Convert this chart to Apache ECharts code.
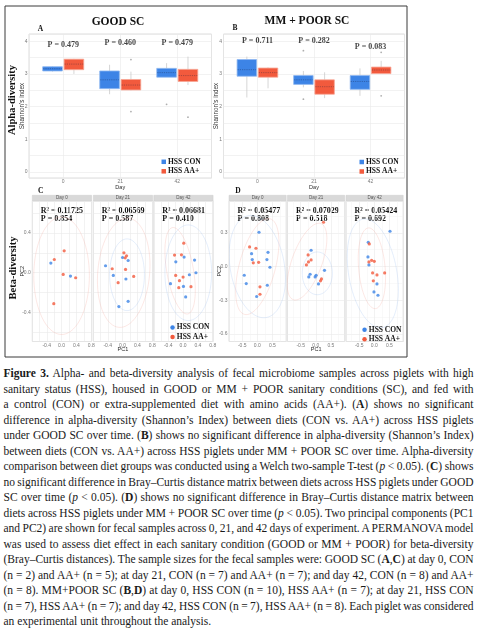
<!DOCTYPE html>
<html>
<head>
<meta charset="utf-8">
<script src="https://cdn.jsdelivr.net/npm/echarts@6/dist/echarts.min.js"></script>
<style>
  html, body { margin: 0; padding: 0; background: #fff; }
  body { width: 479px; height: 631px; overflow: hidden; position: relative; }
  #chart { position: absolute; left: 0; top: 0; width: 479px; height: 362px; }
  #caption { position: absolute; left: 3.5px; top: 366px; width: 470px;
    font-family: 'Liberation Serif', serif; font-size: 11.5px; line-height: 15.5px; color: #1a1a1a; }
  #caption .ln { white-space: nowrap; height: 15.5px; }
</style>
</head>
<body>
<div id="chart"></div>
<div id="caption"></div>
<script>
const days = ['0', '21', '42'];
const facetDays = ['Day 0', 'Day 21', 'Day 42'];

// Shannon's index boxes per day: [min, Q1, median, Q3, max]
const goodConBox = [[3.07, 3.09, 3.16, 3.22, 3.24], [2.38, 2.55, 2.82, 3.09, 3.28], [2.90, 2.90, 3.04, 3.17, 3.33]];
const goodAaBox = [[3.00, 3.13, 3.30, 3.45, 3.46], [2.50, 2.51, 2.66, 2.83, 3.07], [2.66, 2.77, 2.95, 3.14, 3.53]];
const poorConBox = [[2.28, 2.93, 3.13, 3.44, 3.53], [2.59, 2.68, 2.82, 2.95, 3.09], [2.33, 2.53, 2.77, 2.95, 3.17]];
const poorAaBox = [[2.56, 2.90, 3.04, 3.18, 3.20], [2.26, 2.38, 2.61, 2.82, 3.05], [3.01, 3.01, 3.12, 3.21, 3.40]];
// outliers: [day index, value]
const goodConOut = [[2, 2.07]];
const goodAaOut = [[1, 3.44], [1, 1.85], [2, 1.68]];
const poorConOut = [[1, 3.71], [1, 2.23]];
const poorAaOut = [[2, 2.33], [2, 3.66]];

const goodP = ['P = 0.479', 'P = 0.460', 'P = 0.479'];
const goodPY = [3.88, 3.94, 3.94];
const poorP = ['P = 0.711', 'P = 0.282', 'P = 0.083'];
const poorPY = [4.0, 4.0, 3.83];

// PCoA scores [PC1, PC2] per day
const goodPcoaCon = [
  [[-0.29, 0.097], [0.24, -0.033]],
  [[-0.46, 0.07], [-0.25, -0.027], [0.0, 0.153], [0.15, 0.123], [0.09, -0.063], [0.15, -0.287], [-0.1, -0.34]],
  [[0.027, 0.157], [-0.196, 0.11], [0.31, 0.127], [0.347, 0.0], [0.17, -0.02], [-0.34, -0.11], [0.01, -0.137], [0.07, -0.243]]
];
const goodPcoaAa = [
  [[-0.196, 0.133], [0.07, 0.22], [0.044, -0.017], [0.38, -0.05], [-0.21, -0.31]],
  [[-0.28, 0.04], [-0.12, -0.10], [0.036, 0.2], [0.07, 0.15], [0.107, 0.17], [0.08, 0.033], [0.30, -0.037]],
  [[0.018, 0.297], [-0.23, 0.177], [-0.044, 0.18], [-0.2, -0.027], [0.0, -0.043], [-0.098, -0.08], [-0.116, -0.15], [0.213, -0.14]]
];
const poorPcoaCon = [
  [[0.056, 0.305], [-0.19, 0.115], [0.356, 0.127], [-0.167, 0.062], [0.32, 0.062], [0.42, -0.006], [-0.433, -0.077], [-0.367, -0.151], [0.333, -0.166], [-0.022, -0.266]],
  [[-0.156, 0.145], [-0.189, -0.068], [-0.233, -0.092], [-0.022, -0.092], [0.011, -0.077], [0.089, -0.154], [0.289, -0.033]],
  [[0.522, 0.314], [-0.2, 0.216], [-0.211, 0.086], [-0.178, 0.015], [0.089, -0.154], [-0.011, -0.225], [0.122, -0.255]]
];
const poorPcoaAa = [
  [[-0.256, 0.175], [-0.044, 0.163], [-0.133, 0.033], [0.044, 0.038], [0.089, -0.18], [0.089, -0.246]],
  [[0.256, 0.394], [-0.256, 0.104], [-0.156, 0.059], [-0.244, 0.041], [-0.311, 0.015], [0.189, -0.11], [0.156, -0.127]],
  [[-0.167, 0.201], [-0.178, 0.041], [-0.089, 0.056], [0.0, 0.047], [-0.056, -0.056], [0.089, -0.074], [0.344, -0.056], [-0.033, -0.127]]
];
// 95% ellipses: [cx, cy, rx, ry, tilt deg]
const goodEllCon = [null, [0.12, -0.02, 0.47, 0.36, 0], [0.14, 0.0, 0.63, 0.48, 0]];
const goodEllAa = [[0.0, -0.03, 0.75, 0.59, 0], [0.03, 0.0, 0.7, 0.55, 5], [-0.08, 0.02, 0.36, 0.44, -10]];
const poorEllCon = [[0.0, 0.0, 0.9, 0.46, -10], [0.05, -0.06, 0.5, 0.19, 0], [-0.05, -0.06, 0.8, 0.49, -10]];
const poorEllAa = [[0.0, 0.0, 0.6, 0.44, 15], [-0.29, 0.044, 0.5, 0.36, 20], [-0.08, -0.015, 0.44, 0.36, -5]];

const goodR2 = ['0.11725', '0.06569', '0.06681'];
const goodPerm = ['0.854', '0.587', '0.410'];
const poorR2 = ['0.05477', '0.07029', '0.05424'];
const poorPerm = ['0.808', '0.518', '0.692'];

const captionLines = [
  '<b>Figure 3.</b> Alpha- and beta-diversity analysis of fecal microbiome samples across piglets with high',
  'sanitary status (HSS), housed in GOOD or MM + POOR sanitary conditions (SC), and fed with',
  'a control (CON) or extra-supplemented diet with amino acids (AA+). (<b>A</b>) shows no significant',
  'difference in alpha-diversity (Shannon’s Index) between diets (CON vs. AA+) across HSS piglets',
  'under GOOD SC over time. (<b>B</b>) shows no significant difference in alpha-diversity (Shannon’s Index)',
  'between diets (CON vs. AA+) across HSS piglets under MM + POOR SC over time. Alpha-diversity',
  'comparison between diet groups was conducted using a Welch two-sample T-test (<i>p</i> &lt; 0.05). (<b>C</b>) shows',
  'no significant difference in Bray–Curtis distance matrix between diets across HSS piglets under GOOD',
  'SC over time (<i>p</i> &lt; 0.05). (<b>D</b>) shows no significant difference in Bray–Curtis distance matrix between',
  'diets across HSS piglets under MM + POOR SC over time (<i>p</i> &lt; 0.05). Two principal components (PC1',
  'and PC2) are shown for fecal samples across 0, 21, and 42 days of experiment. A PERMANOVA model',
  'was used to assess diet effect in each sanitary condition (GOOD or MM + POOR) for beta-diversity',
  '(Bray–Curtis distances). The sample sizes for the fecal samples were: GOOD SC (<b>A</b>,<b>C</b>) at day 0, CON',
  '(n = 2) and AA+ (n = 5); at day 21, CON (n = 7) and AA+ (n = 7); and day 42, CON (n = 8) and AA+',
  '(n = 8). MM+POOR SC (<b>B</b>,<b>D</b>) at day 0, HSS CON (n = 10), HSS AA+ (n = 7); at day 21, HSS CON',
  '(n = 7), HSS AA+ (n = 7); and day 42, HSS CON (n = 7), HSS AA+ (n = 8). Each piglet was considered',
  'an experimental unit throughout the analysis.'
];

const BLUE = '#3d84e6', RED = '#f25a3d';
const SERIF = 'Liberation Serif', SANS = 'Liberation Sans';

// layout
const boxGrids = [{ left: 29, top: 34, width: 182.5, height: 144 }, { left: 223.5, top: 34, width: 181, height: 144 }];
const cFacets = [32.3, 93.3, 153.8].map(l => ({ left: l, top: 201, width: 59.3, height: 140.5 }));
const dFacets = [229, 287.5, 346].map(l => ({ left: l, top: 201, width: 57.2, height: 140.5 }));

const grids = [...boxGrids, ...cFacets, ...dFacets].map(g => Object.assign({
  show: true, backgroundColor: '#fff', borderColor: '#d4d4d4', borderWidth: 0.8,
  containLabel: false, outerBoundsMode: 'none'
}, g));

const gridLine = { show: true, lineStyle: { color: '#e9e9e9', width: 0.6 } };
const minorLine = { show: true, lineStyle: { color: '#f3f3f3', width: 0.5 } };
const nameStyle = { fontSize: 5.5, fontFamily: SANS, color: '#2a2a2a' };

function fmtStep(step, digits) {
  return v => {
    const q = v / step;
    if (Math.abs(q - Math.round(q)) > 1e-6) return '';
    const r = Math.round(q) * step;
    return (Math.abs(r) < 1e-9 ? 0 : r).toFixed(digits);
  };
}
const dayLabel = v => {
  const i = Math.round(v) - 1;
  return Math.abs(v - Math.round(v)) < 1e-6 && days[i] !== undefined ? days[i] : '';
};

function valAxis(gridIndex, min, max, splitNumber, formatter, more) {
  return Object.assign({
    type: 'value', gridIndex, min, max, splitNumber, nameMoveOverlap: false,
    axisLine: { show: false }, axisTick: { show: false },
    axisLabel: { show: !!formatter, formatter: formatter || undefined, fontSize: 5, color: '#7a7a7a', fontFamily: SANS, margin: 1.5 },
    splitLine: gridLine
  }, more || {});
}
const minorOpts = { minorTick: { show: false, splitNumber: 2 }, minorSplitLine: minorLine };

const xAxes = [
  valAxis(0, 0.4, 3.6, 3, dayLabel, { name: 'Day', nameLocation: 'middle', nameGap: 6.2, nameTextStyle: nameStyle }),
  valAxis(1, 0.4, 3.6, 3, dayLabel, { name: 'Day', nameLocation: 'middle', nameGap: 6.2, nameTextStyle: nameStyle }),
  ...[0, 1, 2].map(f => valAxis(2 + f, -0.79, 0.81, 8, fmtStep(0.4, 1),
    f === 1 ? { name: 'PC1', nameLocation: 'middle', nameGap: 5.3, nameTextStyle: nameStyle } : {})),
  ...[0, 1, 2].map(f => valAxis(5 + f, -0.94, 0.96, 4, fmtStep(0.5, 1), Object.assign({}, minorOpts,
    f === 1 ? { name: 'PC1', nameLocation: 'middle', nameGap: 5.3, nameTextStyle: nameStyle } : {})))
];
const shannonName = { name: "Shannon's index", nameLocation: 'middle', nameRotate: 90, nameGap: 3.8,
  nameTextStyle: { fontSize: 6.3, fontFamily: SANS, color: '#333' } };
const yAxes = [
  valAxis(0, -0.18, 4.22, 9, fmtStep(1, 0), shannonName),
  valAxis(1, -0.18, 4.22, 9, fmtStep(1, 0), shannonName),
  ...[0, 1, 2].map(f => valAxis(2 + f, -0.69, 0.72, 7, f === 0 ? fmtStep(0.4, 1) : null,
    f === 0 ? { name: 'PC2', nameLocation: 'middle', nameRotate: 90, nameGap: 7, nameTextStyle: nameStyle } : {})),
  ...[0, 1, 2].map(f => valAxis(5 + f, -0.666, 0.583, 4, f === 0 ? fmtStep(0.3, 1) : null, Object.assign({}, minorOpts,
    f === 0 ? { name: 'PC2', nameLocation: 'middle', nameRotate: 90, nameGap: 6.5, nameTextStyle: nameStyle } : {})))
];

// boxes drawn through the axis scales
function boxSeries(name, rows, offset, color, edge, axis) {
  return {
    type: 'custom', name, xAxisIndex: axis, yAxisIndex: axis, silent: true,
    itemStyle: { color },
    data: rows.map((r, i) => [i + 1, ...r]),
    renderItem: (params, api) => {
      const x = api.value(0) + offset, hw = 0.172;
      const pMin = api.coord([x, api.value(1)]);
      const pQ1 = api.coord([x, api.value(2)]);
      const pMed = api.coord([x, api.value(3)]);
      const pQ3 = api.coord([x, api.value(4)]);
      const pMax = api.coord([x, api.value(5)]);
      const l = api.coord([x - hw, 0])[0], r = api.coord([x + hw, 0])[0];
      const whisk = { stroke: '#c4c4c4', lineWidth: 0.7 };
      return {
        type: 'group', children: [
          { type: 'line', shape: { x1: pMin[0], y1: pMin[1], x2: pQ1[0], y2: pQ1[1] }, style: whisk },
          { type: 'line', shape: { x1: pQ3[0], y1: pQ3[1], x2: pMax[0], y2: pMax[1] }, style: whisk },
          { type: 'rect', shape: { x: l, y: pQ3[1], width: r - l, height: pQ1[1] - pQ3[1] },
            style: { fill: color, stroke: edge, lineWidth: 0.8 } },
          { type: 'line', shape: { x1: l + 0.5, y1: pMed[1], x2: r - 0.5, y2: pMed[1] },
            style: { stroke: 'rgba(20,30,60,0.45)', lineWidth: 0.7, lineDash: [1.2, 1] } }
        ]
      };
    }
  };
}
function outlierSeries(rows, offset, axis) {
  return {
    type: 'scatter', xAxisIndex: axis, yAxisIndex: axis, silent: true, symbol: 'circle', symbolSize: 1.8,
    itemStyle: { color: '#9a9a9a' },
    data: rows.map(([d, v]) => [d + 1 + offset, v])
  };
}
function pLabelSeries(texts, ys, axis) {
  return {
    type: 'scatter', xAxisIndex: axis, yAxisIndex: axis, silent: true, symbolSize: 0.1,
    itemStyle: { color: 'transparent' },
    data: texts.map((t, i) => [i + 1, ys[i], t]),
    label: { show: true, position: 'inside', formatter: p => p.data[2],
      fontFamily: SERIF, fontWeight: 'bold', fontSize: 8, color: '#111' }
  };
}
function ellipseSeries(ell, color, axis) {
  return {
    type: 'custom', xAxisIndex: axis, yAxisIndex: axis, silent: true, clip: true,
    data: ell ? [ell] : [],
    renderItem: (params, api) => {
      const c = api.coord([api.value(0), api.value(1)]);
      const s = api.size([api.value(2), api.value(3)]);
      const th = api.value(4) * Math.PI / 180;
      const pts = [];
      for (let k = 0; k <= 72; k++) {
        const t = k / 72 * 2 * Math.PI;
        const ex = s[0] * Math.cos(t), ey = s[1] * Math.sin(t);
        pts.push([c[0] + ex * Math.cos(th) - ey * Math.sin(th), c[1] + ex * Math.sin(th) + ey * Math.cos(th)]);
      }
      return { type: 'polyline', shape: { points: pts }, style: { stroke: color, fill: null, lineWidth: 0.7 } };
    }
  };
}
function pointSeries(name, pts, color, axis) {
  return {
    type: 'scatter', name, xAxisIndex: axis, yAxisIndex: axis, silent: true,
    symbol: 'circle', symbolSize: 3.2, itemStyle: { color }, data: pts
  };
}

const series = [
  boxSeries('HSS CON', goodConBox, -0.1875, BLUE, '#8db6f0', 0),
  boxSeries('HSS AA+', goodAaBox, 0.1875, RED, '#f7a493', 0),
  outlierSeries(goodConOut, -0.1875, 0),
  outlierSeries(goodAaOut, 0.1875, 0),
  pLabelSeries(goodP, goodPY, 0),
  boxSeries('HSS CON', poorConBox, -0.1875, BLUE, '#8db6f0', 1),
  boxSeries('HSS AA+', poorAaBox, 0.1875, RED, '#f7a493', 1),
  outlierSeries(poorConOut, -0.1875, 1),
  outlierSeries(poorAaOut, 0.1875, 1),
  pLabelSeries(poorP, poorPY, 1)
];
const ELL_CON = 'rgba(150,185,240,0.35)', ELL_AA = 'rgba(242,160,148,0.35)';
[0, 1, 2].forEach(f => {
  series.push(ellipseSeries(goodEllCon[f], ELL_CON, 2 + f));
  series.push(ellipseSeries(goodEllAa[f], ELL_AA, 2 + f));
  series.push(pointSeries('HSS CON', goodPcoaCon[f], BLUE, 2 + f));
  series.push(pointSeries('HSS AA+', goodPcoaAa[f], RED, 2 + f));
  series.push(ellipseSeries(poorEllCon[f], ELL_CON, 5 + f));
  series.push(ellipseSeries(poorEllAa[f], ELL_AA, 5 + f));
  series.push(pointSeries('HSS CON', poorPcoaCon[f], BLUE, 5 + f));
  series.push(pointSeries('HSS AA+', poorPcoaAa[f], RED, 5 + f));
});

function legendAt(left, top, icon) {
  return {
    orient: 'vertical', left, top, padding: 0, itemGap: 1.5, itemWidth: 4.5, itemHeight: 4.5,
    selectedMode: false,
    textStyle: { fontFamily: SERIF, fontWeight: 'bold', fontSize: 7.5, lineHeight: 6.5, color: '#111', padding: [0, 0, 0, -3] },
    data: [{ name: 'HSS CON', icon, itemStyle: { color: BLUE } }, { name: 'HSS AA+', icon, itemStyle: { color: RED } }]
  };
}

function txt(x, y, text, font, color, align, rot) {
  return {
    type: 'text', x, y, rotation: rot || 0, silent: true,
    style: { text, font, fill: color || '#111', textAlign: align || 'center', align: align || 'center',
      textVerticalAlign: 'middle', verticalAlign: 'middle' }
  };
}
const graphics = [
  { type: 'rect', shape: { x: 5, y: 6, width: 402, height: 351 }, style: { fill: null, stroke: '#3a3a3a', lineWidth: 1 }, silent: true },
  txt(118, 22, 'GOOD SC', 'bold 11.5px "Liberation Serif"'),
  txt(307, 21.5, 'MM + POOR SC', 'bold 11.5px "Liberation Serif"'),
  txt(40.5, 29, 'A', 'bold 7.5px "Liberation Serif"'),
  txt(235, 28.5, 'B', 'bold 7.5px "Liberation Serif"'),
  txt(40.7, 191, 'C', 'bold 7.5px "Liberation Serif"'),
  txt(238, 191, 'D', 'bold 7.5px "Liberation Serif"'),
  txt(12.5, 100, 'Alpha-diversity', 'bold 10.5px "Liberation Serif"', '#111', 'center', Math.PI / 2),
  txt(13, 268, 'Beta-diversity', 'bold 10.5px "Liberation Serif"', '#111', 'center', Math.PI / 2)
];
[[cFacets, goodR2, goodPerm], [dFacets, poorR2, poorPerm]].forEach(([facets, r2, pv]) => {
  facets.forEach((g, f) => {
    graphics.push({ type: 'rect', shape: { x: g.left, y: 195.3, width: g.width, height: 5.7 },
      style: { fill: '#d9d9d9', stroke: '#cfcfcf', lineWidth: 0.5 }, silent: true });
    graphics.push(txt(g.left + g.width / 2, 198.2, facetDays[f], '4.5px "Liberation Sans"', '#555'));
    graphics.push(txt(g.left + 8.5, 210.5, 'R² = ' + r2[f], 'bold 8px "Liberation Serif"', '#111', 'left'));
    graphics.push(txt(g.left + 8.5, 218.5, 'P = ' + pv[f], 'bold 8px "Liberation Serif"', '#111', 'left'));
  });
});

const chart = echarts.init(document.getElementById('chart'), null, { renderer: 'canvas' });
chart.setOption({
  animation: false,
  backgroundColor: '#fff',
  grid: grids,
  xAxis: xAxes,
  yAxis: yAxes,
  legend: [legendAt(161.5, 157.8, 'rect'), legendAt(359.5, 158, 'rect'), legendAt(170.3, 323.5, 'circle'), legendAt(362.3, 325.8, 'circle')],
  graphic: graphics,
  series
});

// caption, each line justified to the text width
const cap = document.getElementById('caption');
const CAP_W = 470;
captionLines.forEach((html, i) => {
  const div = document.createElement('div');
  div.className = 'ln';
  const span = document.createElement('span');
  span.innerHTML = html;
  div.appendChild(span);
  cap.appendChild(div);
  if (i < captionLines.length - 1) {
    const w = span.getBoundingClientRect().width;
    const gaps = span.textContent.split(' ').length - 1;
    span.style.wordSpacing = ((CAP_W - w) / gaps) + 'px';
  }
});
</script>
</body>
</html>
